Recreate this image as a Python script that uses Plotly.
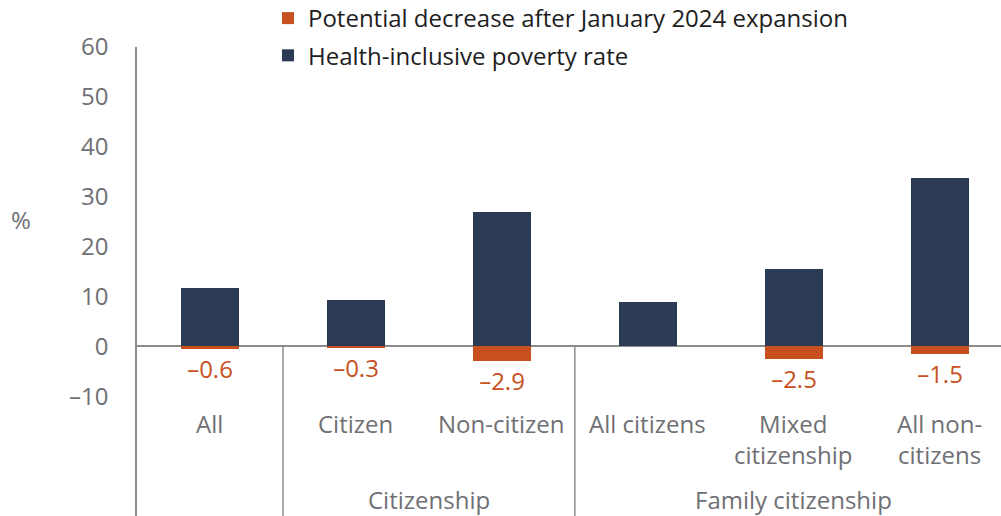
import plotly.graph_objects as go

categories = ["All", "Citizen", "Non-citizen", "All citizens", "Mixed citizenship", "All non-citizens"]
cat_labels = ["All", "Citizen", "Non-citizen", "All citizens", "Mixed<br>citizenship", "All non-<br>citizens"]
poverty_rate = [11.6, 9.2, 27.0, 8.9, 15.5, 33.8]
decrease = [-0.6, -0.3, -2.9, 0.0, -2.5, -1.5]
decrease_labels = ["–0.6", "–0.3", "–2.9", "", "–2.5", "–1.5"]
groups = [("Citizenship", 1.5), ("Family citizenship", 4.0)]
group_separators = [0.5, 2.5]
y_ticks = [-10, 0, 10, 20, 30, 40, 50, 60]
y_ticktext = ["–10", "0", "10", "20", "30", "40", "50", "60"]

NAVY = "#2B3A55"
ORANGE = "#C8501E"
GRAY = "#6F7074"
LINE = "#8C8C8C"
FONT = "Open Sans"
FS = 24

fig = go.Figure()
fig.add_trace(go.Bar(
    x=categories, y=decrease, name="Potential decrease after January 2024 expansion",
    marker=dict(color=ORANGE, line=dict(width=0)), width=0.4,
    text=decrease_labels, textposition="outside", texttemplate="%{text}",
    textfont=dict(color=ORANGE, size=FS, family=FONT), cliponaxis=False,
    legendgroup="a", hoverinfo="skip",
))
fig.add_trace(go.Bar(
    x=categories, y=poverty_rate, name="Health-inclusive poverty rate",
    marker=dict(color=NAVY, line=dict(width=0)), width=0.4,
    legendgroup="b", hoverinfo="skip",
))

annotations = []
for c, lab in zip(categories, cat_labels):
    annotations.append(dict(x=c, y=-11.8, xref="x", yref="y", text=lab, showarrow=False,
                            yanchor="top", xanchor="center",
                            font=dict(size=FS, color=GRAY, family=FONT)))
for name, pos in groups:
    annotations.append(dict(x=pos, y=-30.7, xref="x", yref="y", text=name, showarrow=False,
                            yanchor="middle", xanchor="center",
                            font=dict(size=FS, color=GRAY, family=FONT)))
annotations.append(dict(x=-0.5, y=25.5, xref="x", yref="y", text="%", showarrow=False,
                        xshift=-116, xanchor="center", yanchor="middle",
                        font=dict(size=FS, color=GRAY, family=FONT)))

shapes = []
for s in group_separators:
    shapes.append(dict(type="line", xref="x", yref="y", x0=s, x1=s, y0=0, y1=-34,
                       line=dict(color=LINE, width=1.5)))

fig.update_layout(
    width=1001, height=516,
    margin=dict(l=137, r=0, t=47, b=0, autoexpand=False),
    plot_bgcolor="white", paper_bgcolor="white",
    barmode="relative", bargap=0,
    font=dict(family=FONT, color=GRAY, size=FS),
    showlegend=True,
    legend=dict(x=0.1516, y=1.1087, xref="paper", yref="paper",
                xanchor="left", yanchor="top", orientation="v",
                traceorder="grouped", tracegroupgap=3, bgcolor="rgba(0,0,0,0)",
                font=dict(size=FS, color="#1E1E1E", family=FONT), itemwidth=30),
    annotations=annotations,
    shapes=shapes,
)
fig.update_xaxes(range=[-0.5, 5.42], showticklabels=False, showgrid=False, showline=False,
                 zeroline=False, ticks="")
fig.update_yaxes(range=[-34, 60], tickvals=y_ticks, ticktext=y_ticktext, showgrid=False,
                 showline=True, linecolor=LINE, linewidth=1.5,
                 zeroline=True, zerolinecolor=LINE, zerolinewidth=1.5,
                 ticks="", ticklabelstandoff=22,
                 tickfont=dict(size=FS, color=GRAY, family=FONT))

fig.write_html("out.html")
